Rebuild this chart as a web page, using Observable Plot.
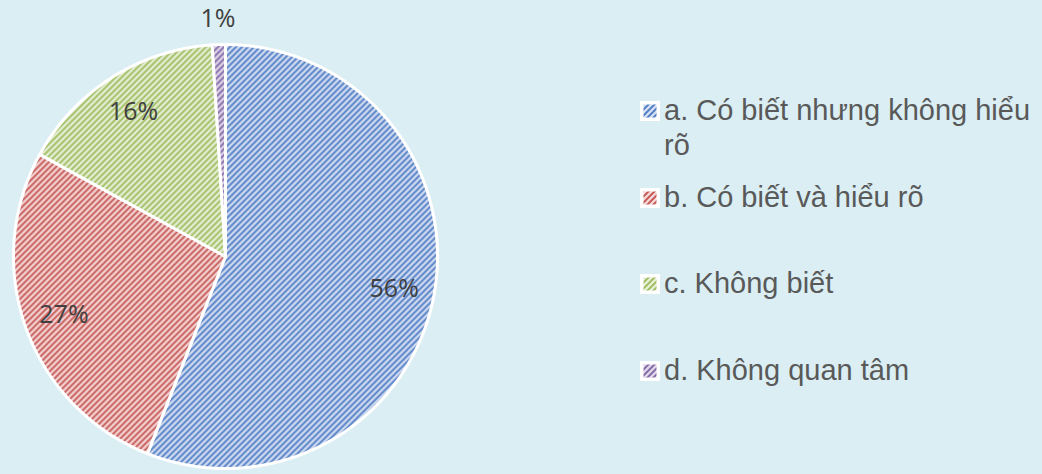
<!DOCTYPE html>
<html>
<head>
<meta charset="utf-8">
<script src="https://cdn.jsdelivr.net/npm/d3@7"></script>
<script src="https://cdn.jsdelivr.net/npm/@observablehq/plot@0.6"></script>
<style>
  html, body { margin: 0; padding: 0; background: #daeef3; }
  #wrap { position: relative; width: 1042px; height: 474px; overflow: hidden; }
  #legend { position: absolute; left: 0; top: 0; width: 1042px; height: 474px; pointer-events: none; }
  .item { position: absolute; left: 640px; display: flex; align-items: flex-start;
          font-family: "Liberation Sans", Arial, sans-serif; font-size: 29px; line-height: 35px; color: #595959; }
  .item svg { flex: none; margin-top: 8px; margin-right: 4px; }
  .item .t { width: 385px; }
</style>
</head>
<body>
<div id="wrap"><div id="legend"></div></div>
<script>
// ---- data ----
const categories = ["a. Có biết nhưng không hiểu rõ", "b. Có biết và hiểu rõ", "c. Không biết", "d. Không quan tâm"];
const values = [56, 27, 16, 1];
const labels = ["56%", "27%", "16%", "1%"];

// ---- styles ----
const patIds = ["pat-a", "pat-b", "pat-c", "pat-d"];
const fgColors = ["#4a78c2", "#c4514e", "#9bbb59", "#8064a2"];
const bgColors = ["#d3def2", "#f3d6d6", "#e6efd6", "#ddd5ea"];
const W = 1042, H = 474, CX = 225, CY = 256, R = 212;

const rows = categories.map((c, i) => ({cat: c, value: values[i], label: labels[i]}));
const arcs = d3.pie().sort(null).value(d => d.value)(rows);

const slicePts = [];
const labelPts = [];
arcs.forEach(a => {
  const cat = a.data.cat;
  slicePts.push({cat, x: 0, y: 0});
  const n = Math.max(2, Math.ceil((a.endAngle - a.startAngle) / (Math.PI / 360)));
  for (let k = 0; k <= n; k++) {
    const t = a.startAngle + (a.endAngle - a.startAngle) * k / n;
    slicePts.push({cat, x: Math.sin(t), y: Math.cos(t)});
  }
  const mid = (a.startAngle + a.endAngle) / 2;
  const r = a.data.value < 5 ? 1.12 : 0.81;
  labelPts.push({label: a.data.label, x: r * Math.sin(mid), y: r * Math.cos(mid)});
});

const chart = Plot.plot({
  width: W, height: H,
  margin: 0,
  style: {background: "#daeef3", overflow: "visible"},
  x: {domain: [-CX / R, (W - CX) / R], axis: null},
  y: {domain: [(CY - H) / R, CY / R], axis: null},
  color: {type: "ordinal", domain: categories, range: patIds.map(id => `url(#${id})`)},
  marks: [
    Plot.line(slicePts, {x: "x", y: "y", z: "cat", fill: "cat", stroke: "white", strokeWidth: 3,
      strokeLinejoin: "round", curve: "linear-closed"}),
    Plot.text(labelPts, {x: "x", y: "y", text: "label", fill: "#404040", fontSize: 25,
      fontFamily: "'Open Sans', sans-serif"})
  ]
});

// pattern defs
const defs = d3.select(chart).insert("defs", ":first-child");
patIds.forEach((id, i) => {
  const p = defs.append("pattern").attr("id", id).attr("patternUnits", "userSpaceOnUse")
    .attr("width", 6).attr("height", 6);
  p.append("rect").attr("width", 6).attr("height", 6).attr("fill", bgColors[i]);
  p.append("path").attr("d", "M-1,7 L7,-1 M-4,4 L4,-4 M2,10 L10,2")
    .attr("stroke", fgColors[i]).attr("stroke-width", 1.8).attr("fill", "none");
});

const wrap = document.getElementById("wrap");
wrap.insertBefore(chart, wrap.firstChild);

// legend
const centers = [110, 197, 283, 370];
const legend = d3.select("#legend");
categories.forEach((c, i) => {
  const item = legend.append("div").attr("class", "item").style("top", (centers[i] - 17.5) + "px");
  const s = item.append("svg").attr("width", 20).attr("height", 20);
  s.append("rect").attr("width", 20).attr("height", 20).attr("fill", "white");
  s.append("rect").attr("x", 3.5).attr("y", 3.5).attr("width", 13).attr("height", 13).attr("fill", `url(#${patIds[i]})`);
  item.append("div").attr("class", "t").text(c);
});
</script>
</body>
</html>
